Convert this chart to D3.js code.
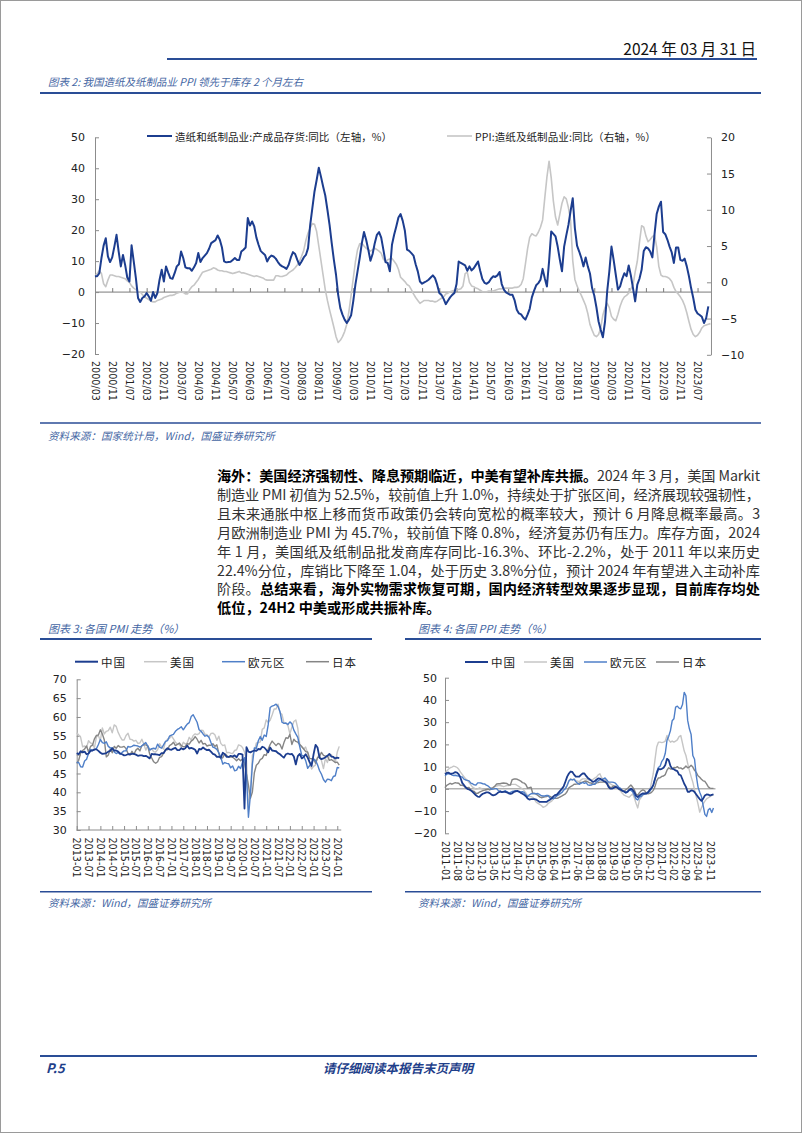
<!DOCTYPE html>
<html><head><meta charset="utf-8">
<script src="https://cdn.jsdelivr.net/npm/d3@7"></script>
<style>
html,body{margin:0;padding:0;background:#fff;}
svg{display:block;}
</style></head><body>
<svg id="page" width="802" height="1133"></svg>
<script>
// ---------------- DATA ----------------
// Chart 2: monthly from 2000/03
const invStart = "2000/03";
const invTickLabels = ["2000/03","2000/11","2001/07","2002/03","2002/11","2003/07","2004/03","2004/11","2005/07","2006/03","2006/11","2007/07","2008/03","2008/11","2009/07","2010/03","2010/11","2011/07","2012/03","2012/11","2013/07","2014/03","2014/11","2015/07","2016/03","2016/11","2017/07","2018/03","2018/11","2019/07","2020/03","2020/11","2021/07","2022/03","2022/11","2023/07"];
const paperInventoryYoY = [5.1,5.1,6.1,11,15,17.4,11.5,9.7,11.2,14.7,
18.5,13.1,8.3,12,8.8,4.7,3.4,15.1,9.9,4.5,
-1.9,-3.2,-1.9,-1.4,-0.3,-1.4,-2.8,0,-1.9,-0.3,
4,7.2,3.4,8.3,6.3,4.5,4.3,6.1,8.3,9,
13.1,11,8,7.7,7.7,6.9,8,9.4,12.6,9.7,
11,11.8,12.6,14,15.8,16.3,16.8,18.3,16.9,14.4,
9.9,9.6,9.7,9.8,10.4,11,10.4,10.4,13.1,13.7,
14.4,23.9,21.5,22.8,21.2,17.6,15.3,13.3,12.6,12,
9.9,11.2,11.8,11.5,10.8,9.7,8.8,8.3,8,7.5,
8.8,11.2,12.9,12.3,10.4,8.8,9.9,11.2,12,14.2,
21.7,27.1,32.5,36.2,40.2,37.3,34.1,31.2,26.6,21.7,
15.8,10.4,5.6,-0.9,-5.2,-7.3,-8.9,-10,-8.9,-7.5,
-3,2.4,6.7,11,15.8,19.4,16.9,13.7,10.1,12.3,
15.8,18.5,19.4,17.6,13.7,9.7,9.4,6.7,15.3,18.5,
21.2,24.1,25.2,23,19.8,13.7,13.3,12.6,11.8,9,
6.7,3.4,2.7,3.1,3.5,4,4.7,5.4,4.5,2.4,
-0.3,-0.9,-2.2,-3.9,-2.8,-1.7,-0.9,-0.3,2.6,9.9,
9.4,9,8.6,6.9,8.3,7,7.7,8.8,9.9,6.9,
4.2,3,2.7,3.2,4.3,5.1,4.9,5.4,6.5,2.6,
0.8,-0.1,-0.5,-0.9,-0.9,-2.7,-5.7,-6.9,-7.2,-8.2,
-8.9,-7.3,-5.4,-1.7,0.4,2.2,2.9,4,7.5,4.5,
1.8,9.9,19.6,18.8,18,14.7,10.5,6.7,14.7,18.3,
21.7,26.2,30.3,20.6,15,13.1,11,8.3,11.2,8.3,
6,1.3,-1.1,-4.9,-9.5,-12.2,-14.6,-9.5,0.2,6.7,
14.7,10.4,5.6,0.8,1.8,4.3,6.1,5.1,8.6,5.4,
1.3,-3,2.4,4.3,7.2,13.3,14.5,14.1,13.1,11.2,
18.7,25.2,27.6,29.2,19.4,18.7,16.9,14.7,12.8,9.4,
14.4,14.4,10.4,10.1,10.8,8.3,5.1,1.3,-1.9,-5.7,
-6.9,-7.4,-8,-10,-8.4,-4.6];
const paperPPIYoY = [0.8,1.2,1.6,1.2,-0.2,-0.6,0.3,1.0,1.0,0.9,
0.8,0.8,0.7,0.6,0.5,0.2,0.0,-0.5,-0.8,-1.0,
-1.3,-1.3,-1.7,-2.0,-2.2,-2.4,-2.6,-2.7,-2.7,-2.5,
-2.4,-2.3,-2.1,-2.0,-1.9,-1.8,-1.8,-1.7,-1.5,-1.4,
-1.3,-1.4,-1.6,-1.6,-1.0,-0.6,-0.4,0.0,0.4,0.9,
1.4,1.5,1.6,1.7,1.8,2.0,1.9,1.7,1.6,1.6,
1.5,1.5,1.4,1.3,1.2,1.3,1.4,1.5,1.3,1.3,
1.2,1.1,1.0,0.9,0.8,0.9,0.8,0.7,0.6,0.4,
0.3,0.3,0.3,0.3,0.9,0.9,0.8,0.8,0.9,1.0,
1.3,1.5,1.7,2.0,2.4,2.9,3.6,4.4,5.8,6.8,
7.5,8.1,8.0,7.0,5.0,3.0,1.0,-1.0,-2.5,-3.8,
-5.0,-6.2,-7.5,-8.3,-8.0,-7.5,-6.8,-5.8,-4.0,-1.8,
0.5,2.8,4.5,5.3,5.4,5.0,4.7,4.5,4.3,4.5,
4.7,4.5,4.3,4.0,3.2,2.9,3.1,3.2,3.3,2.9,
2.5,1.8,0.7,0.4,0.1,-0.3,-0.5,-1.0,-1.6,-2.1,
-2.5,-2.9,-2.7,-2.5,-2.5,-2.5,-2.6,-2.6,-2.7,-2.6,
-2.4,-2.2,-2.0,-1.6,-1.5,-1.3,-1.2,-1.1,-1.0,-1.0,
-0.9,-0.5,1.2,1.4,0.0,-0.5,-0.6,-0.8,-0.9,-1.1,
-1.3,-1.3,-1.3,-1.2,-1.2,-1.2,-1.1,-1.0,-0.9,-0.9,
-0.8,-0.8,-0.8,-0.8,-0.8,-0.7,-0.7,-0.6,-0.3,0.5,
2.5,4.6,6.2,6.7,6.5,6.4,6.9,7.6,8.6,11.6,
14.5,16.7,14.4,11.2,9.0,7.9,9.4,10.9,11.8,11.5,
10.3,8.5,3.0,0.4,-0.5,-1.2,-1.8,-2.5,-3.2,-4.3,
-5.8,-6.6,-7.3,-7.5,-7.2,-6.3,-4.5,-3.5,-2.9,-3.5,
-4.7,-5.1,-5.3,-4.4,-3.3,-2.5,-2.0,-1.8,-1.5,-0.9,
-0.4,1.4,2.9,5.5,7.8,7.6,6.4,5.6,5.9,6.3,
6.5,4.9,2.2,1.0,0.8,0.8,0.7,0.5,0.1,-0.7,
-1.3,-1.6,-2.0,-2.5,-3.2,-4.2,-5.4,-6.5,-7.2,-7.5,
-7.3,-6.9,-6.3,-6.0,-5.9,-5.8,-5.7];
const invLeftTicks = [-20,-10,0,10,20,30,40,50];
const invRightTicks = [-10,-5,0,5,10,15,20];

// Chart 3: PMI monthly from 2013-01
const pmiStart = "2013-01";
const pmiTickLabels = ["2013-01","2013-07","2014-01","2014-07","2015-01","2015-07","2016-01","2016-07","2017-01","2017-07","2018-01","2018-07","2019-01","2019-07","2020-01","2020-07","2021-01","2021-07","2022-01","2022-07","2023-01","2023-07","2024-01"];
const pmiYTicks = [30,35,40,45,50,55,60,65,70];
const pmiChina = [50.4,50.1,50.9,50.6,50.8,50.1,50.3,51.0,51.1,51.4,51.4,51.0,
50.5,50.2,50.3,50.4,50.8,51.0,51.7,51.1,51.1,50.8,50.3,50.1,
49.8,49.9,50.1,50.1,50.2,50.2,50.0,49.7,49.8,49.8,49.6,49.7,
49.4,49.0,50.2,50.1,50.1,50.0,49.9,50.4,50.4,51.2,51.7,51.4,
51.3,51.6,51.8,51.2,51.2,51.7,51.4,51.7,52.4,51.6,51.8,51.6,
51.3,50.3,51.5,51.4,51.9,51.5,51.2,51.3,50.8,50.2,50.0,49.4,
49.5,49.2,50.5,50.1,49.4,49.4,49.7,49.5,49.8,49.3,50.2,50.2,
50.0,35.7,52.0,50.8,50.6,50.9,51.1,51.0,51.5,51.4,52.1,51.9,
51.3,50.6,51.9,51.1,51.0,50.9,50.4,50.1,49.6,49.2,50.1,50.3,
50.1,50.2,49.5,47.4,49.6,50.2,49.0,49.4,50.1,49.2,48.0,47.0,
50.1,52.6,51.9,49.2,48.8,49.0,49.3,49.7,50.2,49.5,49.4,49.0,
49.2,49.1];
const pmiUS = [55.8,55.2,54.6,52.1,52.3,51.9,53.7,53.1,52.8,51.8,54.7,55.0,
53.7,57.1,55.5,56.2,56.4,57.3,55.8,57.9,57.5,55.9,54.8,53.9,
53.9,55.1,55.7,54.1,54.0,53.6,53.8,53.0,53.1,54.1,52.8,51.2,
52.4,51.3,51.5,50.8,50.7,51.3,52.9,52.0,51.5,53.4,54.1,54.3,
55.0,54.2,53.3,52.8,52.7,52.0,53.3,52.8,53.1,54.6,53.9,55.1,
55.5,55.3,55.6,56.5,56.4,55.4,55.3,54.7,55.6,55.7,55.3,53.8,
54.9,53.0,52.4,52.6,50.5,50.6,50.4,50.3,51.1,51.3,52.6,52.4,
51.9,50.7,48.5,36.1,39.8,49.8,50.9,53.1,53.2,53.4,56.7,57.1,
59.2,58.6,59.1,60.5,62.1,62.1,63.4,61.1,60.7,58.4,58.3,57.7,
55.5,57.3,58.8,59.2,57.0,52.7,52.2,51.5,52.0,50.4,47.7,46.2,
46.9,47.3,49.2,50.2,48.4,46.3,49.0,47.9,49.8,50.0,49.4,47.9,
50.7,52.2];
const pmiEuro = [47.9,47.9,46.8,46.7,48.3,48.8,50.3,51.4,51.1,51.3,51.6,52.7,
54.0,53.2,53.0,53.4,52.2,51.8,51.8,50.7,50.3,50.6,50.1,50.6,
51.0,51.0,52.2,52.0,52.2,52.5,52.4,52.3,52.0,52.3,52.8,53.2,
52.3,51.2,51.6,51.7,51.5,52.8,52.0,51.7,52.6,53.5,53.7,54.9,
55.2,55.4,56.2,56.7,57.0,57.4,56.6,57.4,58.1,58.5,60.1,60.6,
59.6,58.6,56.6,56.2,55.5,54.9,55.1,54.6,53.2,52.0,51.8,51.4,
50.5,49.3,47.5,47.9,47.7,47.6,46.5,47.0,45.7,45.9,46.9,46.3,
47.9,49.2,44.5,33.4,39.4,47.4,51.8,51.7,53.7,54.8,53.8,55.2,
54.8,57.9,62.5,62.9,63.1,63.4,62.8,61.4,58.6,58.3,58.4,58.0,
58.7,58.2,56.5,55.5,54.6,52.1,49.8,49.6,48.4,46.4,47.1,47.8,
48.8,48.5,47.3,45.8,44.8,43.4,42.7,43.5,43.4,43.1,44.2,44.4,
46.6,46.5];
const pmiJapan = [47.7,48.5,50.4,51.1,51.5,52.3,50.7,52.2,52.5,54.2,55.1,55.2,
56.6,55.5,53.9,49.4,49.9,51.5,50.5,52.2,51.7,52.4,52.0,52.0,
52.2,51.6,50.3,49.9,50.9,50.1,51.2,51.7,51.0,52.4,52.6,52.6,
52.3,50.1,49.1,48.1,47.7,48.1,49.3,49.5,50.4,51.4,51.3,52.4,
52.7,53.3,52.4,52.7,53.1,52.4,52.1,52.2,52.9,52.8,53.6,54.0,
54.8,54.1,53.1,53.8,52.8,53.0,52.3,52.5,52.5,52.9,52.2,52.6,
50.3,48.9,49.2,50.2,49.8,49.3,49.4,49.3,48.9,48.4,48.9,48.4,
48.8,47.8,44.8,41.9,38.4,40.1,45.2,47.2,47.7,48.7,49.0,50.0,
49.8,51.4,52.7,53.6,53.0,52.4,53.0,52.7,51.5,53.2,54.5,54.3,
55.4,52.7,54.1,53.5,53.3,52.7,52.1,51.5,50.8,50.7,49.0,48.9,
48.9,47.7,49.2,49.5,50.6,49.8,49.6,49.6,48.5,48.7,48.3,47.9,
48.0,47.2];

// Chart 4: PPI monthly from 2011-01
const ppiStart = "2011-01";
const ppiTickLabels = ["2011-01","2011-08","2012-03","2012-10","2013-05","2013-12","2014-07","2015-02","2015-09","2016-04","2016-11","2017-06","2018-01","2018-08","2019-03","2019-10","2020-05","2020-12","2021-07","2022-02","2022-09","2023-04","2023-11"];
const ppiYTicks = [-20,-10,0,10,20,30,40,50];
const ppiChina = [6.6,7.2,7.3,6.8,6.8,7.1,7.5,7.3,6.5,5.0,2.7,1.7,
0.7,0.0,-0.3,-0.7,-1.4,-2.1,-2.9,-3.5,-3.6,-2.8,-2.2,-1.9,
-1.6,-1.6,-1.9,-2.6,-2.9,-2.7,-2.3,-1.6,-1.3,-1.5,-1.4,-1.4,
-1.6,-2.0,-2.3,-2.0,-1.4,-1.1,-0.9,-1.2,-1.8,-2.2,-2.7,-3.3,
-4.3,-4.8,-4.6,-4.6,-4.6,-4.8,-5.4,-5.9,-5.9,-5.9,-5.9,-5.9,
-5.3,-4.9,-4.3,-3.4,-2.8,-2.6,-1.7,-0.8,0.1,1.2,3.3,5.5,
6.9,7.8,7.6,6.4,5.5,5.5,5.5,6.3,6.9,6.9,5.8,4.9,
4.3,3.7,3.1,3.4,4.1,4.7,4.6,4.1,3.6,3.3,2.7,0.9,
0.1,0.1,0.4,0.9,0.6,0.0,-0.3,-0.8,-1.2,-1.6,-1.4,-0.5,
0.1,-0.4,-1.5,-3.1,-3.7,-3.0,-2.4,-2.0,-2.1,-2.1,-1.5,-0.4,
0.3,1.7,4.4,6.8,9.0,8.8,9.0,9.5,10.7,13.5,12.9,10.3,
9.1,8.8,8.3,8.0,6.4,6.1,4.2,2.3,0.9,-1.3,-1.3,-0.7,
-0.8,-1.4,-2.5,-3.6,-4.6,-5.4,-4.4,-3.0,-2.5,-2.6,-3.0,-2.7,
-2.5];
const ppiUS = [7.0,8.0,8.8,9.5,9.8,10.2,10.0,9.6,8.8,7.5,6.5,5.5,
4.5,3.8,2.8,1.8,0.8,0.3,-0.2,0.0,0.5,0.2,-0.3,-0.5,
-0.5,-0.3,0.0,0.5,0.6,1.0,1.3,1.5,1.5,1.3,1.0,1.2,
1.5,1.5,1.8,2.0,2.0,2.0,1.5,1.0,0.5,0.0,-0.8,-1.8,
-3.0,-3.5,-3.5,-3.8,-4.8,-6.0,-6.5,-7.0,-7.5,-8.3,-8.0,-7.5,
-6.5,-6.0,-5.5,-4.5,-3.8,-3.2,-2.8,-2.3,-1.5,-0.5,0.5,1.5,
3.8,4.5,4.0,4.5,3.5,3.5,3.2,4.0,4.5,4.5,4.5,4.2,
3.8,4.0,4.3,4.8,5.3,6.3,6.8,5.0,4.5,4.2,3.2,2.5,
2.3,1.8,1.3,1.0,0.5,-0.3,-1.0,-2.0,-2.8,-3.2,-3.5,-3.8,
-3.0,-2.3,-4.0,-6.5,-8.6,-5.0,-3.8,-2.8,-2.3,-1.8,-1.2,-0.8,
3.0,6.8,13.0,18.8,21.0,21.0,20.8,21.0,21.5,24.0,22.0,21.0,
21.5,21.0,21.5,22.0,23.5,24.0,20.5,17.0,15.0,11.5,8.3,5.5,
3.0,-0.5,-3.5,-6.8,-10.5,-8.5,-6.8,-5.5,-4.5,-4.0,-3.5,-3.0,
-2.5];
const ppiEuro = [5.9,6.6,6.8,6.8,6.2,6.0,6.1,5.9,5.8,5.5,5.4,4.4,
4.0,3.8,3.6,2.6,2.3,1.8,1.7,2.7,2.7,2.6,2.3,2.2,
1.7,1.3,0.6,-0.2,-0.1,0.1,0.1,-0.8,-0.9,-1.4,-1.2,-0.8,
-1.4,-1.7,-1.6,-1.2,-1.0,-0.8,-1.1,-1.4,-1.4,-1.3,-1.6,-2.7,
-3.5,-2.7,-2.2,-2.1,-2.1,-2.2,-2.1,-2.6,-3.1,-3.2,-3.2,-3.0,
-3.0,-4.2,-4.2,-4.5,-3.9,-3.1,-2.6,-2.0,-1.6,-0.5,0.1,1.6,
3.5,4.3,4.0,4.3,3.3,2.5,2.0,2.5,2.9,2.5,2.8,1.8,
1.6,1.7,2.1,2.0,3.0,3.6,4.1,4.2,4.5,4.9,4.0,3.0,
3.0,3.0,2.9,2.6,1.6,0.7,0.2,-0.8,-1.2,-1.9,-1.4,-0.6,
-0.6,-1.3,-2.8,-4.5,-5.0,-3.7,-3.4,-2.6,-2.4,-2.0,-1.9,-1.1,
0.1,1.5,4.3,7.6,9.6,10.2,12.4,13.5,16.0,21.9,23.7,26.2,
30.6,31.5,36.8,37.2,36.3,36.0,37.9,43.4,41.9,30.8,27.0,24.5,
15.0,13.3,5.9,0.9,-1.5,-3.4,-7.6,-11.5,-12.4,-9.4,-8.8,-10.6,
-8.6];
const ppiJapan = [0.5,1.6,2.0,2.5,2.1,2.5,2.8,2.6,2.5,1.6,1.6,1.3,
0.5,0.5,0.6,-0.6,-0.9,-1.2,-2.1,-2.0,-1.5,-1.1,-0.8,-0.6,
-0.3,-0.1,-0.5,0.1,0.6,1.2,2.2,2.3,2.3,2.5,2.6,2.5,
2.4,1.8,1.7,4.1,4.4,4.5,4.3,3.9,3.5,2.8,2.6,1.9,
0.3,0.5,0.7,-2.1,-2.1,-2.4,-3.0,-3.6,-4.0,-3.8,-3.6,-3.5,
-3.1,-3.4,-3.8,-4.2,-4.3,-4.3,-4.0,-3.6,-3.2,-2.7,-2.3,-1.2,
0.5,1.0,1.4,2.1,2.1,2.2,2.6,2.9,3.0,3.4,3.5,3.1,
2.7,2.6,2.1,2.1,2.7,2.8,3.0,3.0,3.0,3.0,2.3,1.5,
0.6,0.8,1.3,1.2,0.7,-0.1,-0.6,-0.9,-1.1,-0.4,0.1,0.9,
1.7,0.8,-0.4,-2.4,-2.8,-1.7,-0.9,-0.5,-0.8,-2.1,-2.2,-2.0,
-1.6,-0.7,1.0,3.6,4.9,5.0,5.6,5.8,6.4,8.4,9.5,8.9,
9.0,9.6,9.5,10.0,9.3,9.4,8.9,9.4,10.3,9.5,9.8,10.6,
9.8,8.3,7.4,5.9,5.2,4.3,3.6,3.4,2.2,0.9,0.3,0.2,
0.2];

const countryNames = ["中国","美国","欧元区","日本"];

// ---------------- STYLE ----------------
const CJK = '"Noto Sans CJK SC","Noto Sans",sans-serif';
const NUM = '"DejaVu Sans",sans-serif';
const C_NAVY = "#1c3d8f";
const C_LGRAY = "#c6c6c6";
const C_MBLUE = "#4f7fc8";
const C_DGRAY = "#858585";
const C_RULE = "#2a4d96";
const C_CAP = "#4466a3";
const C_AXIS = "#8c8c8c";
const countryColors = [C_NAVY, C_LGRAY, C_MBLUE, C_DGRAY];

const svg = d3.select("#page");
svg.append("rect").attr("x",0.5).attr("y",0.5).attr("width",801).attr("height",1132)
  .attr("fill","#fff").attr("stroke","#9a9a9a").attr("stroke-width",1);

function monthIdx(label, start){
  const p = label.split(/[\/-]/).map(Number), s = start.split(/[\/-]/).map(Number);
  return (p[0]-s[0])*12 + (p[1]-s[1]);
}
function rule(x1,x2,y,w){
  svg.append("line").attr("x1",x1).attr("x2",x2).attr("y1",y).attr("y2",y)
    .attr("stroke",C_RULE).attr("stroke-width",w||1.6);
}
function caption(x,y,txt,size,ls){
  svg.append("text").attr("x",x).attr("y",y).attr("dominant-baseline","central")
    .attr("font-family",CJK).attr("font-size",size||11).attr("font-style","italic")
    .attr("fill",C_CAP).attr("letter-spacing",ls==null?0:ls).text(txt);
}
function styleAxis(g){
  g.select(".domain").attr("stroke",C_AXIS).attr("stroke-width",1);
  g.selectAll(".tick line").attr("stroke",C_AXIS);
  g.selectAll(".tick text").attr("font-family",NUM).attr("fill","#222");
}

// ---------------- HEADER ----------------
svg.append("text").attr("x",756).attr("y",48).attr("text-anchor","end").attr("dominant-baseline","central")
  .attr("font-family",'"Liberation Sans Narrow","Noto Sans CJK SC",sans-serif').attr("font-size",15.5).attr("fill","#111")
  .text("2024 年 03 月 31 日");
rule(167,757,59,2.2);
caption(48,81.5,"图表 2: 我国造纸及纸制品业 PPI 领先于库存 2 个月左右",10.5,0);
rule(40,761,93,2);

// ---------------- CHART 2 ----------------
(function(){
  const n = paperPPIYoY.length;
  const x = d3.scaleLinear().domain([0, n-1]).range([95, 95 + (n-1)*2.152]);
  const yL = d3.scaleLinear().domain([-20,50]).range([354,137.3]);
  const yR = d3.scaleLinear().domain([-10,20]).range([354.8,137.3]);
  const g = svg.append("g");
  const xa = g.append("g").attr("transform",`translate(0,${yL(0)})`)
    .call(d3.axisBottom(x).tickValues(invTickLabels.map(l=>monthIdx(l,invStart))).tickSize(-4).tickFormat(""));
  xa.select(".domain").attr("stroke","#7a7a7a");
  xa.selectAll(".tick line").attr("stroke","#7a7a7a");
  xa.select(".domain").attr("d",`M95,0H${x(n-1)+1}`);
  const la = g.append("g").attr("transform","translate(95,0)")
    .call(d3.axisLeft(yL).tickValues(invLeftTicks).tickSize(-4).tickPadding(10).tickSizeOuter(0));
  styleAxis(la); la.selectAll(".tick text").attr("font-size",11);
  const ra = g.append("g").attr("transform",`translate(${x(n-1)+0.5},0)`)
    .call(d3.axisRight(yR).tickValues(invRightTicks).tickSize(-4).tickPadding(10).tickSizeOuter(0));
  styleAxis(ra); ra.selectAll(".tick text").attr("font-size",11);
  g.selectAll(".xl").data(invTickLabels).enter().append("text")
    .attr("transform",d=>`translate(${x(monthIdx(d,invStart))},361) rotate(90)`)
    .attr("dominant-baseline","central").attr("font-family",NUM).attr("font-size",9.6).attr("fill","#222").text(d=>d);
  g.append("path").datum(paperPPIYoY).attr("fill","none").attr("stroke",C_LGRAY).attr("stroke-width",1.6)
    .attr("stroke-linejoin","round").attr("d",d3.line().x((d,i)=>x(i)).y(d=>yR(d)));
  g.append("path").datum(paperInventoryYoY).attr("fill","none").attr("stroke",C_NAVY).attr("stroke-width",2)
    .attr("stroke-linejoin","round").attr("d",d3.line().x((d,i)=>x(i)).y(d=>yL(d)));
  const leg = [
    {x:147, c:C_NAVY, w:2, t:"造纸和纸制品业:产成品存货:同比（左轴，%）"},
    {x:447, c:C_LGRAY, w:1.6, t:"PPI:造纸及纸制品业:同比（右轴，%）"}];
  leg.forEach(l=>{
    g.append("line").attr("x1",l.x).attr("x2",l.x+25).attr("y1",136).attr("y2",136).attr("stroke",l.c).attr("stroke-width",l.w);
    g.append("text").attr("x",l.x+28).attr("y",136).attr("dominant-baseline","central").attr("font-family",CJK)
      .attr("font-size",10.5).attr("letter-spacing",0.1).attr("fill","#222").text(l.t);
  });
})();
rule(40,761,423,1.6);
caption(48,435,"资料来源：国家统计局，Wind，国盛证券研究所",10.5,0.1);

// ---------------- PARAGRAPH ----------------
const paraLines = [
  [["b","海外：美国经济强韧性、降息预期临近，中美有望补库共振。"],["n","2024 年 3 月，美国 Markit"]],
  [["n","制造业 PMI 初值为 52.5%，较前值上升 1.0%，持续处于扩张区间，经济展现较强韧性，"]],
  [["n","且未来通胀中枢上移而货币政策仍会转向宽松的概率较大，预计 6 月降息概率最高。3"]],
  [["n","月欧洲制造业 PMI 为 45.7%，较前值下降 0.8%，经济复苏仍有压力。库存方面，2024"]],
  [["n","年 1 月，美国纸及纸制品批发商库存同比-16.3%、环比-2.2%，处于 2011 年以来历史"]],
  [["n","22.4%分位，库销比下降至 1.04，处于历史 3.8%分位，预计 2024 年有望进入主动补库"]],
  [["n","阶段。"],["b","总结来看，海外实物需求恢复可期，国内经济转型效果逐步显现，目前库存均处"]],
  [["b","低位，24H2 中美或形成共振补库。"]]
];
paraLines.forEach((segs,i)=>{
  const t = svg.append("text").attr("x",217).attr("y",475+i*18.9).attr("dominant-baseline","central")
    .attr("font-family",CJK).attr("font-size",14.2);
  if(i<paraLines.length-1) t.attr("textLength",543).attr("lengthAdjust","spacing");
  segs.forEach(s=>t.append("tspan").attr("font-weight",s[0]==="b"?700:400).attr("fill",s[0]==="b"?"#000":"#333").text(s[1]));
});

// ---------------- CHART 3 & 4 ----------------
caption(48,627.7,"图表 3: 各国 PMI 走势（%）",11,0);
rule(40,372,639,2);
caption(418,627.7,"图表 4: 各国 PPI 走势（%）",11,0);
rule(405,761,639,2);

function legend4(y, xs){
  countryNames.forEach((nm,i)=>{
    svg.append("line").attr("x1",xs[i]).attr("x2",xs[i]+23).attr("y1",y).attr("y2",y)
      .attr("stroke",countryColors[i]).attr("stroke-width",i===0?2:1.5);
    svg.append("text").attr("x",xs[i]+26).attr("y",y).attr("dominant-baseline","central").attr("font-family",CJK)
      .attr("font-size",11.5).attr("letter-spacing",1).attr("fill","#222").text(nm);
  });
}

// PMI
(function(){
  const series = [pmiChina, pmiUS, pmiEuro, pmiJapan];
  const n = pmiChina.length;
  const x = d3.scaleLinear().domain([0,n-1]).range([76.7, 76.7+(n-1)*1.974]);
  const y = d3.scaleLinear().domain([30,70]).range([830,679.3]);
  const g = svg.append("g");
  const ya = g.append("g").attr("transform","translate(76.7,0)")
    .call(d3.axisLeft(y).tickValues(pmiYTicks).tickSize(-4).tickPadding(10).tickSizeOuter(0));
  styleAxis(ya); ya.selectAll(".tick text").attr("font-size",11);
  const xa = g.append("g").attr("transform","translate(0,830)")
    .call(d3.axisBottom(x).tickValues(pmiTickLabels.map(l=>monthIdx(l,pmiStart))).tickSize(-4).tickFormat(""));
  xa.select(".domain").attr("stroke",C_AXIS).attr("d",`M76.7,0H${x(n-1)+2}`);
  xa.selectAll(".tick line").attr("stroke",C_AXIS);
  g.selectAll(".xl").data(pmiTickLabels).enter().append("text")
    .attr("transform",d=>`translate(${x(monthIdx(d,pmiStart))},837.5) rotate(90)`)
    .attr("dominant-baseline","central").attr("font-family",NUM).attr("font-size",9.6).attr("fill","#222").text(d=>d);
  [1,3,2,0].forEach(k=>{
    g.append("path").datum(series[k]).attr("fill","none").attr("stroke",countryColors[k]).attr("stroke-width",k===0?1.8:1.4)
      .attr("stroke-linejoin","round").attr("d",d3.line().x((d,i)=>x(i)).y(d=>y(d)));
  });
  legend4(661.7,[75,144,222,306]);
})();

// PPI
(function(){
  const series = [ppiChina, ppiUS, ppiEuro, ppiJapan];
  const n = ppiChina.length;
  const x = d3.scaleLinear().domain([0,n-1]).range([445, 445+(n-1)*1.721]);
  const y = d3.scaleLinear().domain([-20,50]).range([833.3,677.7]);
  const g = svg.append("g");
  const ya = g.append("g").attr("transform","translate(445,0)")
    .call(d3.axisLeft(y).tickValues(ppiYTicks).tickSize(-4).tickPadding(8).tickSizeOuter(0));
  styleAxis(ya); ya.selectAll(".tick text").attr("font-size",11);
  const xa = g.append("g").attr("transform",`translate(0,${y(0)})`)
    .call(d3.axisBottom(x).tickValues([]).tickSize(0).tickFormat(""));
  xa.select(".domain").attr("stroke",C_AXIS).attr("d",`M445,0H${x(n-1)+2}`);
  g.selectAll(".xl").data(ppiTickLabels).enter().append("text")
    .attr("transform",d=>`translate(${x(monthIdx(d,ppiStart))},841) rotate(90)`)
    .attr("dominant-baseline","central").attr("font-family",NUM).attr("font-size",9.6).attr("fill","#222").text(d=>d);
  [1,3,2,0].forEach(k=>{
    g.append("path").datum(series[k]).attr("fill","none").attr("stroke",countryColors[k]).attr("stroke-width",k===0?1.8:1.4)
      .attr("stroke-linejoin","round").attr("d",d3.line().x((d,i)=>x(i)).y(d=>y(d)));
  });
  legend4(662,[465,524,584,656]);
})();

rule(40,372,891.7,1.6);
caption(48,902.5,"资料来源：Wind，国盛证券研究所",10.5,0.1);
rule(405,761,891.7,1.6);
caption(418,902.5,"资料来源：Wind，国盛证券研究所",10.5,0.1);

// ---------------- FOOTER ----------------
rule(40,757,1056,2.2);
svg.append("text").attr("x",46).attr("y",1067).attr("dominant-baseline","central").attr("font-family",CJK)
  .attr("font-size",13).attr("font-weight",700).attr("font-style","italic").attr("fill","#1f3f8a").text("P.5");
svg.append("text").attr("x",398).attr("y",1067).attr("text-anchor","middle").attr("dominant-baseline","central").attr("font-family",CJK)
  .attr("font-size",12.5).attr("font-weight",700).attr("font-style","italic").attr("fill","#1f3f8a").text("请仔细阅读本报告末页声明");
</script>
</body></html>
